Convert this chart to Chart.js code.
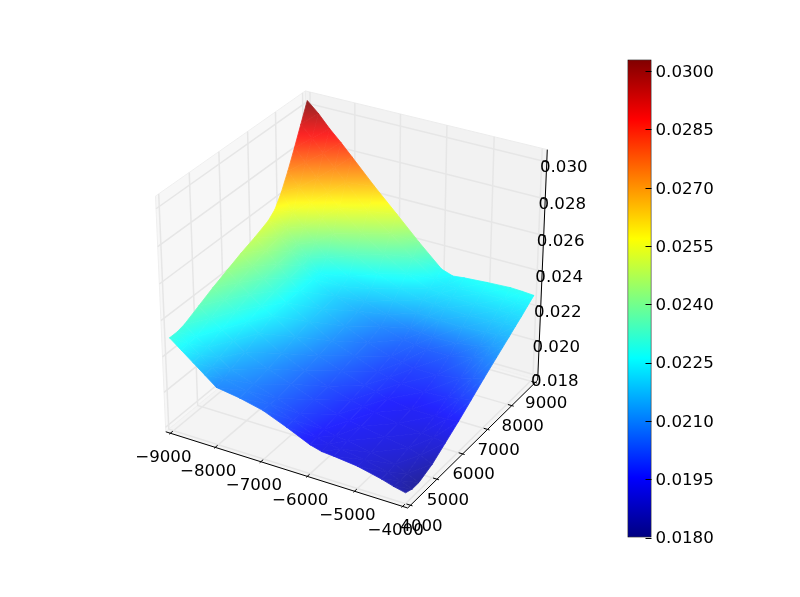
<!DOCTYPE html>
<html>
<head>
<meta charset="utf-8">
<title>surface</title>
<script src="https://cdn.jsdelivr.net/npm/chart.js@4"></script>
<style>
body { margin: 0; background: #fff; }
#wrap { position: relative; width: 800px; height: 597px; }
canvas { position: absolute; top: 0; }
</style>
</head>
<body>
<div id="wrap">
<canvas id="surface" width="800" height="597" style="left:0"></canvas>
<canvas id="colorbar" width="200" height="597" style="left:600px"></canvas>
</div>
<script>
// Du lieu doc tu hinh
var xGrid = [-9000, -8750, -8500, -8250, -8000, -7500, -7000, -6500, -6000, -5750, -5500, -5000, -4500, -4250, -4000];
var yGrid = [4000, 4250, 4500, 5000, 5500, 6000, 6500, 7000, 7500, 7750, 8000, 8250, 8500, 8750, 9000];
// moi hang ung voi mot gia tri yGrid, moi cot ung voi xGrid
var zValues = [
    [0.02300, 0.02250, 0.02200, 0.02150, 0.02100, 0.02080, 0.02050, 0.01997, 0.01938, 0.01920, 0.01915, 0.01900, 0.01870, 0.01850, 0.01835],
    [0.02300, 0.02255, 0.02210, 0.02160, 0.02115, 0.02085, 0.02050, 0.02000, 0.01945, 0.01925, 0.01920, 0.01900, 0.01870, 0.01845, 0.01820],
    [0.02310, 0.02260, 0.02220, 0.02180, 0.02135, 0.02090, 0.02050, 0.02002, 0.01955, 0.01935, 0.01930, 0.01905, 0.01880, 0.01850, 0.01820],
    [0.02350, 0.02300, 0.02255, 0.02210, 0.02165, 0.02110, 0.02060, 0.02012, 0.01970, 0.01955, 0.01940, 0.01920, 0.01900, 0.01880, 0.01850],
    [0.02390, 0.02340, 0.02295, 0.02250, 0.02205, 0.02130, 0.02070, 0.02020, 0.01980, 0.01965, 0.01950, 0.01930, 0.01915, 0.01908, 0.01900],
    [0.02425, 0.02375, 0.02325, 0.02280, 0.02240, 0.02160, 0.02090, 0.02040, 0.02000, 0.01980, 0.01960, 0.01940, 0.01940, 0.01945, 0.01950],
    [0.02460, 0.02405, 0.02350, 0.02300, 0.02250, 0.02180, 0.02110, 0.02060, 0.02010, 0.01995, 0.01980, 0.01970, 0.01978, 0.01992, 0.02005],
    [0.02490, 0.02435, 0.02375, 0.02310, 0.02255, 0.02190, 0.02130, 0.02070, 0.02030, 0.02015, 0.02000, 0.02000, 0.02020, 0.02040, 0.02060],
    [0.02525, 0.02450, 0.02385, 0.02320, 0.02260, 0.02200, 0.02150, 0.02100, 0.02060, 0.02050, 0.02040, 0.02042, 0.02072, 0.02093, 0.02112],
    [0.02560, 0.02470, 0.02400, 0.02335, 0.02265, 0.02225, 0.02175, 0.02135, 0.02095, 0.02085, 0.02080, 0.02085, 0.02103, 0.02122, 0.02138],
    [0.02630, 0.02530, 0.02465, 0.02395, 0.02325, 0.02250, 0.02215, 0.02185, 0.02150, 0.02150, 0.02145, 0.02142, 0.02150, 0.02157, 0.02163],
    [0.02720, 0.02645, 0.02575, 0.02505, 0.02435, 0.02345, 0.02272, 0.02225, 0.02195, 0.02187, 0.02182, 0.02178, 0.02182, 0.02187, 0.02190],
    [0.02820, 0.02755, 0.02685, 0.02620, 0.02550, 0.02440, 0.02355, 0.02280, 0.02225, 0.02220, 0.02212, 0.02210, 0.02212, 0.02213, 0.02215],
    [0.02925, 0.02865, 0.02795, 0.02730, 0.02665, 0.02535, 0.02440, 0.02340, 0.02250, 0.02235, 0.02235, 0.02240, 0.02245, 0.02242, 0.02243],
    [0.03030, 0.02973, 0.02904, 0.02844, 0.02778, 0.02646, 0.02522, 0.02396, 0.02278, 0.02256, 0.02263, 0.02272, 0.02278, 0.02275, 0.02270]
];
var xTicks = [-9000, -8000, -7000, -6000, -5000, -4000];
var yTicks = [4000, 5000, 6000, 7000, 8000, 9000];
var zTicks = [0.018, 0.020, 0.022, 0.024, 0.026, 0.028, 0.030];
var colorbarTicks = [0.018, 0.0195, 0.021, 0.0225, 0.024, 0.0255, 0.027, 0.0285, 0.03];

var zMin = 0.018, zMax = 0.0303;
var xLim = [-9000, -4000], yLim = [4000, 9000], zLim = [zMin, 0.0304];
var FONT = '16.67px "DejaVu Sans"';

// Phep chieu giong mplot3d: elev 30, azim -60, dist 10
var elev = 30 * Math.PI / 180, azim = -60 * Math.PI / 180, dist = 10;
var eyeDir = [Math.cos(azim) * Math.cos(elev), Math.sin(azim) * Math.cos(elev), Math.sin(elev)];
var rightDir = norm(cross([0, 0, 1], eyeDir));
var upDir = cross(eyeDir, rightDir);

function cross(a, b) {
    return [a[1] * b[2] - a[2] * b[1], a[2] * b[0] - a[0] * b[2], a[0] * b[1] - a[1] * b[0]];
}
function norm(a) {
    var l = Math.sqrt(a[0] * a[0] + a[1] * a[1] + a[2] * a[2]);
    return [a[0] / l, a[1] / l, a[2] / l];
}
function dot(a, b) { return a[0] * b[0] + a[1] * b[1] + a[2] * b[2]; }

function project(x, y, z) {
    var p = [
        (x - xLim[0]) / (xLim[1] - xLim[0]) - 0.5 - dist * eyeDir[0],
        (y - yLim[0]) / (yLim[1] - yLim[0]) - 0.5 - dist * eyeDir[1],
        (z - zLim[0]) / (zLim[1] - zLim[0]) - 0.5 - dist * eyeDir[2]
    ];
    var w = -dot(p, eyeDir);
    return { x: dot(p, rightDir) / w, y: dot(p, upDir) / w, depth: w };
}

// Bang mau jet
function jet(t) {
    t = Math.max(0, Math.min(1, t));
    var r = Math.min(1, Math.max(0, Math.min(4 * t - 1.5, 4.5 - 4 * t)));
    var g = Math.min(1, Math.max(0, Math.min(4 * t - 0.5, 3.5 - 4 * t)));
    var b = Math.min(1, Math.max(0, Math.min(4 * t + 0.5, 2.5 - 4 * t)));
    return [r, g, b];
}
function jetCss(z, wash) {
    var c = jet((z - zMin) / (zMax - zMin));
    return 'rgb(' + c.map(function (v) { return Math.round((v + (1 - v) * wash) * 255); }).join(',') + ')';
}

// Hop truc co le 1/48 moi phia
var dx = (xLim[1] - xLim[0]) / 48, dy = (yLim[1] - yLim[0]) / 48, dz = (zLim[1] - zLim[0]) / 48;
var x0 = xLim[0] - dx, x1 = xLim[1] + dx, y0 = yLim[0] - dy, y1 = yLim[1] + dy, z0 = zLim[0] - dz, z1 = zLim[1] + dz;

function pathSet(points, color, width, fill) {
    var pts = points.map(function (p) { return project(p[0], p[1], p[2]); });
    return {
        data: pts.map(function (p) { return { x: p.x, y: p.y }; }),
        showLine: true, pointRadius: 0, borderColor: color, borderWidth: width,
        backgroundColor: fill || 'transparent', fill: fill ? 'shape' : false, tension: 0
    };
}

// Cac tam giac be mat
var triangles = [];
for (var j = 0; j < yGrid.length - 1; j++) {
    for (var i = 0; i < xGrid.length - 1; i++) {
        var a = [xGrid[i], yGrid[j], zValues[j][i]];
        var b = [xGrid[i + 1], yGrid[j], zValues[j][i + 1]];
        var c = [xGrid[i + 1], yGrid[j + 1], zValues[j + 1][i + 1]];
        var d = [xGrid[i], yGrid[j + 1], zValues[j + 1][i]];
        triangles.push([a, b, c], [a, c, d]);
    }
}
triangles.sort(function (s, t) { return meanDepth(s) - meanDepth(t); });

function meanDepth(tri) {
    return tri.reduce(function (sum, v) { return sum + project(v[0], v[1], v[2]).depth; }, 0) / 3;
}

function triGradient(chart, tri) {
    if (tri.grad) return tri.grad;
    var sx = chart.scales.x, sy = chart.scales.y;
    if (!sx || !sy || !chart.chartArea || !isFinite(sx.getPixelForValue(0))) return 'transparent';
    var p = tri.map(function (v) {
        var q = project(v[0], v[1], v[2]);
        return { x: sx.getPixelForValue(q.x), y: sy.getPixelForValue(q.y), z: v[2] };
    });
    var ax = p[1].x - p[0].x, ay = p[1].y - p[0].y, bx = p[2].x - p[0].x, by = p[2].y - p[0].y;
    var za = p[1].z - p[0].z, zb = p[2].z - p[0].z;
    var det = ax * by - bx * ay;
    var lo = Math.min(p[0].z, p[1].z, p[2].z), hi = Math.max(p[0].z, p[1].z, p[2].z);
    if (Math.abs(det) < 1e-6 || hi - lo < 1e-7) {
        tri.grad = jetCss((lo + hi) / 2, 0.14);
        return tri.grad;
    }
    var gx = (za * by - zb * ay) / det, gy = (ax * zb - bx * za) / det;
    var g2 = gx * gx + gy * gy;
    var grad = chart.ctx.createLinearGradient(
        p[0].x + gx * (lo - p[0].z) / g2, p[0].y + gy * (lo - p[0].z) / g2,
        p[0].x + gx * (hi - p[0].z) / g2, p[0].y + gy * (hi - p[0].z) / g2
    );
    for (var k = 0; k <= 5; k++) {
        grad.addColorStop(k / 5, jetCss(lo + (hi - lo) * k / 5, 0.14));
    }
    tri.grad = grad;
    return grad;
}

var datasets = [];
// dataset dau tien duoc ve sau cung, nen mat truoc dat len dau
triangles.forEach(function (tri) {
    var pts = tri.concat([tri[0]]).map(function (v) { return project(v[0], v[1], v[2]); });
    datasets.push({
        data: pts.map(function (p) { return { x: p.x, y: p.y }; }),
        showLine: true, pointRadius: 0, borderWidth: 0.8, fill: 'shape', tension: 0,
        backgroundColor: function (ctx) { return triGradient(ctx.chart, tri); },
        borderColor: function (ctx) { return triGradient(ctx.chart, tri); }
    });
});

// Truc den va vach chia
var inTick = 1 / 60, outTick = 1 / 120;
var AXIS = '#000';
datasets.push(pathSet([[x0, y0, z0], [x1, y0, z0]], AXIS, 1));
datasets.push(pathSet([[x1, y0, z0], [x1, y1, z0]], AXIS, 1));
datasets.push(pathSet([[x1, y1, z0], [x1, y1, z1]], AXIS, 1));
xTicks.forEach(function (x) {
    datasets.push(pathSet([[x, y0 + 5000 * inTick, z0], [x, y0 - 5000 * outTick, z0]], AXIS, 1));
});
yTicks.forEach(function (y) {
    datasets.push(pathSet([[x1 - 5000 * inTick, y, z0], [x1 + 5000 * outTick, y, z0]], AXIS, 1));
});
zTicks.forEach(function (z) {
    datasets.push(pathSet([[x1 - 5000 * inTick, y1, z], [x1 + 5000 * outTick, y1, z]], AXIS, 1));
});

// Luoi
var GRID = '#e6e6e6';
xTicks.forEach(function (x) {
    datasets.push(pathSet([[x, y0, z0], [x, y1, z0], [x, y1, z1]], GRID, 1.5));
});
yTicks.forEach(function (y) {
    datasets.push(pathSet([[x1, y, z0], [x0, y, z0], [x0, y, z1]], GRID, 1.5));
});
zTicks.forEach(function (z) {
    datasets.push(pathSet([[x0, y0, z], [x0, y1, z], [x1, y1, z]], GRID, 1.5));
});

// Ba mat nen
datasets.push(pathSet([[x0, y0, z0], [x1, y0, z0], [x1, y1, z0], [x0, y1, z0], [x0, y0, z0]], '#f0f0f0', 1, '#f4f4f4'));
datasets.push(pathSet([[x0, y1, z0], [x1, y1, z0], [x1, y1, z1], [x0, y1, z1], [x0, y1, z0]], '#ececec', 1, '#f2f2f2'));
datasets.push(pathSet([[x0, y0, z0], [x0, y1, z0], [x0, y1, z1], [x0, y0, z1], [x0, y0, z0]], '#efefef', 1, '#f7f7f7'));

// Nhan truc viet bang chu that
var tickLabels = {
    id: 'tickLabels',
    afterDatasetsDraw: function (chart) {
        var ctx = chart.ctx, sx = chart.scales.x, sy = chart.scales.y;
        ctx.save();
        ctx.font = FONT;
        ctx.fillStyle = '#000';
        ctx.textAlign = 'center';
        ctx.textBaseline = 'middle';
        function put(text, p, ox, oy) {
            ctx.fillText(text, sx.getPixelForValue(p.x) + ox, sy.getPixelForValue(p.y) + oy);
        }
        xTicks.forEach(function (x) {
            put('\u2212' + Math.abs(x), project(x, y0, z0), -7, 24);
        });
        yTicks.forEach(function (y) {
            put(String(y), project(x1, y, z0), 11, 21);
        });
        zTicks.forEach(function (z) {
            put(z.toFixed(3), project(x1, y1, z), 17, 6);
        });
        ctx.restore();
    }
};

// Cua so cua truc: -0.095..0.09 phu 100..596 ngang va 537.3..59.7 doc
var scaleX = 0.185 / 496, scaleY = 0.185 / 477.6;
new Chart(document.getElementById('surface').getContext('2d'), {
    type: 'scatter',
    data: { datasets: datasets },
    options: {
        responsive: false,
        animation: false,
        layout: { padding: 0 },
        plugins: { legend: { display: false }, tooltip: { enabled: false } },
        events: [],
        scales: {
            x: { type: 'linear', display: false, min: -0.095 - 100 * scaleX, max: -0.095 + 700 * scaleX },
            y: { type: 'linear', display: false, min: -0.095 - 59.7 * scaleY, max: -0.095 + 537.3 * scaleY }
        }
    },
    plugins: [tickLabels]
});

// Thanh mau
var inwardTicks = {
    id: 'inwardTicks',
    afterDatasetsDraw: function (chart) {
        var ctx = chart.ctx, right = chart.chartArea.right, s = chart.scales.y;
        ctx.save();
        ctx.strokeStyle = '#000';
        ctx.lineWidth = 1;
        colorbarTicks.forEach(function (v) {
            var py = Math.round(s.getPixelForValue(v)) + 0.5;
            ctx.beginPath();
            ctx.moveTo(right - 6, py);
            ctx.lineTo(right, py);
            ctx.stroke();
        });
        ctx.restore();
    }
};
new Chart(document.getElementById('colorbar').getContext('2d'), {
    type: 'bar',
    data: {
        labels: [''],
        datasets: [{
            data: [[zMin, zMax]],
            barPercentage: 1,
            categoryPercentage: 1,
            borderWidth: 1,
            borderColor: '#000',
            borderSkipped: false,
            backgroundColor: function (ctx) {
                var s = ctx.chart.scales.y;
                if (!s || !ctx.chart.chartArea || !isFinite(s.getPixelForValue(zMin))) return 'transparent';
                var grad = ctx.chart.ctx.createLinearGradient(0, s.getPixelForValue(zMin), 0, s.getPixelForValue(zMax));
                for (var k = 0; k <= 16; k++) {
                    grad.addColorStop(k / 16, jetCss(zMin + (zMax - zMin) * k / 16, 0));
                }
                return grad;
            }
        }]
    },
    options: {
        responsive: false,
        animation: false,
        events: [],
        layout: { padding: { top: 59.5, bottom: 59.5, left: 27.5, right: 0 } },
        plugins: { legend: { display: false }, tooltip: { enabled: false } },
        scales: {
            x: { display: false },
            y: {
                position: 'right',
                min: zMin,
                max: zMax,
                grid: { display: false, drawTicks: false },
                border: { display: false },
                afterFit: function (s) { s.width = 148.5; },
                afterBuildTicks: function (s) {
                    s.ticks = colorbarTicks.map(function (v) { return { value: v }; });
                },
                ticks: {
                    padding: 4,
                    labelOffset: 1.5,
                    color: '#000',
                    font: { family: 'DejaVu Sans', size: 16.67 },
                    callback: function (v) { return v.toFixed(4); }
                }
            }
        }
    },
    plugins: [inwardTicks]
});
</script>
</body>
</html>
